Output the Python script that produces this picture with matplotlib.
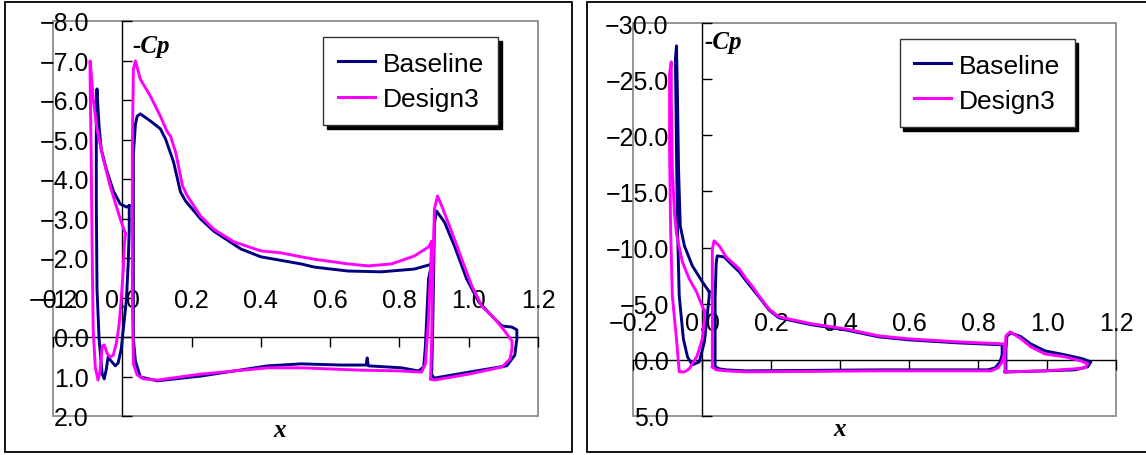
import matplotlib.pyplot as plt
from matplotlib.patches import Rectangle
from matplotlib.lines import Line2D

plt.rcParams['font.family'] = ['Liberation Sans', 'DejaVu Sans']

# ---------------- left panel (Cp, inverted axis) ----------------
L_BASE_SLAT_X = [0.020, 0.012, -0.006, -0.026, -0.046, -0.061, -0.067, -0.070, -0.073, -0.075, -0.075, -0.073,
                 -0.067, -0.058, -0.052, -0.046, -0.041, -0.032, -0.020, -0.012, -0.003, 0.003, 0.012, 0.017,
                 0.020, 0.020]
L_BASE_SLAT_CP = [-3.32, -3.29, -3.37, -3.70, -4.25, -4.76, -5.34, -5.77, -6.28, -5.90, -3.49, -1.22,
                  0.05, 0.94, 1.06, 0.81, 0.51, 0.61, 0.73, 0.66, 0.30, -0.20, -0.96, -1.85, -2.73, -3.32]
L_BASE_MAIN_X = [0.893, 0.884, 0.843, 0.748, 0.652, 0.554, 0.516, 0.400, 0.342, 0.264, 0.226, 0.183, 0.168,
                 0.148, 0.133, 0.125, 0.110, 0.081, 0.052, 0.043, 0.038, 0.032,
                 0.032, 0.032, 0.038, 0.052, 0.101, 0.226, 0.420, 0.516, 0.632, 0.704, 0.707, 0.710, 0.806,
                 0.855, 0.870, 0.875, 0.884, 0.893]
L_BASE_MAIN_CP = [-1.85, -1.82, -1.72, -1.65, -1.67, -1.77, -1.85, -2.03, -2.23, -2.68, -2.99, -3.44, -3.67,
                  -4.43, -4.81, -5.01, -5.27, -5.47, -5.65, -5.59, -5.39, -4.63,
                  -2.23, 0.05, 0.61, 1.01, 1.11, 0.99, 0.73, 0.68, 0.71, 0.71, 0.53, 0.73, 0.78,
                  0.86, 0.76, 0.23, -1.47, -1.85]
L_BASE_FLAP_X = [0.893, 0.896, 0.899, 0.901, 0.907, 0.930, 0.959, 0.994, 1.029, 1.067, 1.096, 1.125, 1.139,
                 1.139, 1.133, 1.110, 1.000, 0.901, 0.893]
L_BASE_FLAP_CP = [0.96, -0.20, -1.72, -2.86, -3.19, -2.91, -2.30, -1.47, -0.89, -0.53, -0.28, -0.25, -0.18,
                  0.05, 0.46, 0.73, 0.89, 1.04, 0.96]

L_DES_SLAT_X = [0.009, -0.006, -0.035, -0.055, -0.073, -0.084, -0.090, -0.093, -0.093, -0.090, -0.087, -0.084,
                -0.078, -0.070, -0.064, -0.058, -0.052, -0.044, -0.035, -0.026, -0.017, -0.009, -0.003, 0.003,
                0.006, 0.009]
L_DES_SLAT_CP = [-2.61, -2.99, -3.82, -4.51, -5.27, -6.03, -6.73, -6.99, -6.66, -4.76, -2.23, -0.20,
                 0.76, 1.09, 0.86, 0.23, 0.20, 0.41, 0.51, 0.46, 0.15, -0.33, -0.96, -1.72, -2.35, -2.61]
L_DES_MAIN_X = [0.893, 0.884, 0.843, 0.777, 0.710, 0.652, 0.554, 0.516, 0.458, 0.400, 0.322, 0.264, 0.226,
                0.188, 0.174, 0.154, 0.139, 0.130, 0.110, 0.081, 0.052, 0.038,
                0.032, 0.029, 0.029, 0.032, 0.043, 0.061, 0.101, 0.226, 0.420, 0.516, 0.690, 0.806, 0.864,
                0.875, 0.884, 0.890, 0.893]
L_DES_MAIN_CP = [-2.41, -2.28, -2.05, -1.85, -1.80, -1.85, -1.97, -2.03, -2.13, -2.18, -2.41, -2.73, -3.06,
                 -3.57, -3.82, -4.68, -5.09, -5.19, -5.59, -6.10, -6.53, -6.99,
                 -6.78, -4.76, -0.96, 0.68, 0.96, 1.06, 1.09, 0.94, 0.78, 0.78, 0.84, 0.86, 0.89,
                 0.68, -0.46, -1.72, -2.41]
L_DES_FLAP_X = [0.890, 0.893, 0.896, 0.899, 0.901, 0.910, 0.922, 0.951, 0.980, 1.009, 1.038, 1.075, 1.104,
                1.125, 1.125, 1.119, 1.096, 1.000, 0.901, 0.890]
L_DES_FLAP_CP = [1.06, 0.05, -1.47, -2.48, -3.24, -3.57, -3.32, -2.66, -1.97, -1.29, -0.78, -0.46, -0.15,
                 0.10, 0.30, 0.56, 0.76, 0.94, 1.09, 1.06]

# ---------------- right panel ----------------
R_BASE_SLAT_X = [0.021, 0.001, -0.028, -0.051, -0.063, -0.068, -0.071, -0.074, -0.077, -0.074, -0.071,
                 -0.066, -0.054, -0.042, -0.028, -0.008, 0.007, 0.015, 0.021, 0.021]
R_BASE_SLAT_CP = [-6.06, -6.95, -8.37, -10.15, -11.93, -17.01, -23.24, -27.96, -26.80, -18.79, -11.67,
                  -5.70, -1.87, -0.27, 0.45, 0.18, -1.60, -3.92, -5.70, -6.06]
R_BASE_MAIN_X = [0.038, 0.038, 0.041, 0.044, 0.064, 0.087, 0.108, 0.128, 0.165, 0.194, 0.223, 0.318, 0.416,
                 0.512, 0.599, 0.743, 0.870, 0.870, 0.864, 0.850, 0.829, 0.512, 0.128, 0.070, 0.050, 0.038]
R_BASE_MAIN_CP = [0.62, -5.43, -8.55, -9.26, -9.17, -8.46, -7.84, -7.03, -5.61, -4.45, -3.74, -3.12, -2.67,
                  -2.05, -1.78, -1.51, -1.34, -0.45, 0.18, 0.71, 0.89, 0.89, 0.98, 0.89, 0.80, 0.62]
R_BASE_FLAP_X = [0.881, 0.881, 0.884, 0.896, 0.925, 0.953, 0.994, 1.052, 1.104, 1.127, 1.118, 1.081, 0.994,
                 0.890, 0.881]
R_BASE_FLAP_CP = [1.07, -0.98, -2.14, -2.40, -2.05, -1.42, -0.80, -0.45, -0.09, 0.18, 0.62, 0.89, 0.98,
                  1.07, 1.07]

R_DES_SLAT_X = [0.007, -0.002, -0.016, -0.037, -0.057, -0.074, -0.080, -0.086, -0.089, -0.089, -0.094,
                -0.094, -0.091, -0.086, -0.074, -0.066, -0.051, -0.037, -0.014, 0.001, 0.007, 0.007]
R_DES_SLAT_CP = [-4.36, -4.99, -6.06, -7.21, -8.73, -11.22, -13.18, -17.01, -23.24, -26.54, -25.47,
                 -18.79, -11.67, -5.70, -1.87, 1.07, 1.07, 0.80, -0.36, -1.87, -3.65, -4.36]
R_DES_MAIN_X = [0.030, 0.030, 0.030, 0.035, 0.050, 0.070, 0.108, 0.128, 0.145, 0.165, 0.194, 0.223, 0.318,
                0.416, 0.512, 0.599, 0.743, 0.876, 0.876, 0.870, 0.858, 0.838, 0.512, 0.128, 0.070, 0.041,
                0.030]
R_DES_MAIN_CP = [0.62, -5.43, -9.88, -10.60, -10.15, -9.17, -8.10, -7.21, -6.59, -5.70, -4.54, -3.83, -3.21,
                 -2.76, -2.14, -1.87, -1.60, -1.42, -0.53, 0.18, 0.71, 0.98, 0.98, 1.07, 0.98, 0.89, 0.62]
R_DES_FLAP_X = [0.878, 0.878, 0.881, 0.893, 0.925, 0.953, 0.994, 1.052, 1.098, 1.118, 1.110, 1.081, 0.994,
                0.887, 0.878]
R_DES_FLAP_CP = [1.07, -0.53, -2.14, -2.49, -1.87, -1.16, -0.53, -0.27, 0.09, 0.36, 0.71, 0.80, 0.98,
                 1.07, 1.07]

X_TICKS = [-0.2, 0.0, 0.2, 0.4, 0.6, 0.8, 1.0, 1.2]
X_LABELS = ['\u22120.2', '0.0', '0.2', '0.4', '0.6', '0.8', '1.0', '1.2']
L_Y_TICKS = [-8, -7, -6, -5, -4, -3, -2, -1, 0, 1, 2]
L_Y_LABELS = ['\u22128.0', '\u22127.0', '\u22126.0', '\u22125.0', '\u22124.0', '\u22123.0', '\u22122.0',
              '\u22121.0', '0.0', '1.0', '2.0']
R_Y_TICKS = [-30, -25, -20, -15, -10, -5, 0, 5]
R_Y_LABELS = ['\u221230.0', '\u221225.0', '\u221220.0', '\u221215.0', '\u221210.0', '\u22125.0', '0.0', '5.0']
SERIES = ['Baseline', 'Design3']
COLORS = ['#000080', '#FF00FF']

fig = plt.figure(figsize=(11.46, 4.56), dpi=100)

# outer panel frames
fig.patches.append(Rectangle((5 / 1146, 3 / 456), 567 / 1146, 450 / 456, transform=fig.transFigure,
                             fill=False, edgecolor='black', lw=1.3))
fig.patches.append(Rectangle((587 / 1146, 3 / 456), 560 / 1146, 450 / 456, transform=fig.transFigure,
                             fill=False, edgecolor='black', lw=1.3))

axL = fig.add_axes([53 / 1146, 39 / 456, 485 / 1146, 395 / 456])
axR = fig.add_axes([633 / 1146, 39 / 456, 483 / 1146, 393 / 456])


def setup(ax, ylim, yticks, ylabels, leg_anchor, cp_pos, x_pos):
    ax.set_xlim(-0.2, 1.2)
    ax.set_ylim(*ylim)
    ax.spines['right'].set_visible(False)
    ax.spines['left'].set_position(('data', 0))
    ax.spines['bottom'].set_position(('data', 0))
    ax.spines['top'].set_position(('data', 0))
    ax.spines['top'].set_color('none')
    for s in ('left', 'bottom'):
        ax.spines[s].set_linewidth(1.0)
    ax.add_patch(Rectangle((0, 0), 1, 1, transform=ax.transAxes, fill=False,
                           edgecolor='#8c8c8c', lw=1.3, clip_on=False, zorder=0.5))
    ax.set_xticks(X_TICKS)
    ax.set_xticklabels(X_LABELS)
    ax.tick_params(axis='x', bottom=True, top=False, labelbottom=False, labeltop=True,
                   direction='out', length=7, width=1, pad=11, labelsize=18)
    ax.set_yticks(yticks)
    ax.set_yticklabels(ylabels)
    ax.tick_params(axis='y', left=True, right=False, direction='in', length=7, width=1,
                   pad=24, labelsize=18)
    ax.text(cp_pos[0], cp_pos[1], '-Cp', transform=ax.transAxes, fontsize=18, family='Liberation Serif',
            weight='bold', style='italic', va='center', ha='left')
    ax.text(x_pos[0], x_pos[1], 'x', transform=ax.transAxes, fontsize=18, family='Liberation Serif',
            weight='bold', style='italic', va='center', ha='center')
    handles = [Line2D([], [], color=c, lw=2.2) for c in COLORS]
    ax.legend(handles, SERIES, loc='upper right', bbox_to_anchor=leg_anchor, fontsize=19,
              frameon=True, fancybox=False, framealpha=1, edgecolor='#333333',
              shadow={'ox': 2.5, 'oy': -2.5, 'color': 'black', 'alpha': 1},
              handlelength=1.4, handletextpad=0.3, borderpad=0.55, labelspacing=0.42,
              borderaxespad=0)


# baseline first, design3 on top
for xs, cs in [(L_BASE_SLAT_X, L_BASE_SLAT_CP), (L_BASE_MAIN_X, L_BASE_MAIN_CP), (L_BASE_FLAP_X, L_BASE_FLAP_CP)]:
    axL.plot(xs, cs, color=COLORS[0], lw=2.1, zorder=3)
for xs, cs in [(L_DES_SLAT_X, L_DES_SLAT_CP), (L_DES_MAIN_X, L_DES_MAIN_CP), (L_DES_FLAP_X, L_DES_FLAP_CP)]:
    axL.plot(xs, cs, color=COLORS[1], lw=2.1, zorder=4)
for xs, cs in [(R_BASE_SLAT_X, R_BASE_SLAT_CP), (R_BASE_MAIN_X, R_BASE_MAIN_CP), (R_BASE_FLAP_X, R_BASE_FLAP_CP)]:
    axR.plot(xs, cs, color=COLORS[0], lw=2.1, zorder=3)
for xs, cs in [(R_DES_SLAT_X, R_DES_SLAT_CP), (R_DES_MAIN_X, R_DES_MAIN_CP), (R_DES_FLAP_X, R_DES_FLAP_CP)]:
    axR.plot(xs, cs, color=COLORS[1], lw=2.1, zorder=4)

setup(axL, (2, -8), L_Y_TICKS, L_Y_LABELS, (0.918, 0.959), (0.163, 0.937), (0.468, -0.035))
setup(axR, (5, -30), R_Y_TICKS, R_Y_LABELS, (0.915, 0.959), (0.149, 0.952), (0.4286, -0.033))

fig.savefig('out.png', dpi=100)
